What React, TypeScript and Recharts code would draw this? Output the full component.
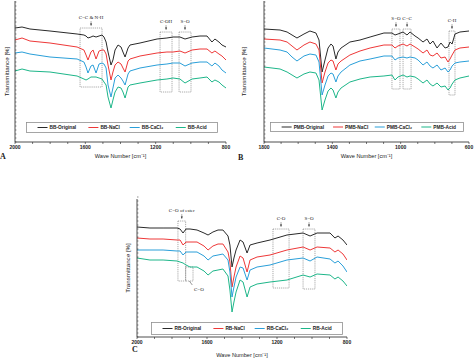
import React from "react";
import { LineChart, Line, XAxis, YAxis, ReferenceArea, Legend } from "recharts";

// ---- panel A (BB) ----
const A_WN = [2000, 1960, 1915, 1801, 1647, 1608, 1596, 1585, 1568, 1556, 1539, 1522, 1505, 1494, 1482, 1471, 1454, 1443, 1431, 1414, 1397, 1386, 1374, 1357, 1346, 1289, 1192, 1136, 1101, 1062, 1033, 993, 948, 908, 880, 863, 840, 823, 800];
const A_ORIGINAL = [114, 115, 113, 111, 108, 107, 106, 104, 105, 106, 105, 106, 107, 105, 100, 90, 77, 82, 92, 97, 95, 90, 85, 94, 97, 99, 103, 104, 105, 105, 103, 105, 106, 106, 100, 103, 100, 97, 95];
const A_NACL = [102, 104, 101, 99, 95, 92, 87, 82, 90, 92, 83, 91, 92, 92, 88, 77, 62, 70, 77, 80, 78, 74, 70, 81, 83, 86, 89, 90, 90, 91, 89, 92, 93, 93, 89, 91, 88, 86, 82];
const A_CACL2 = [89, 90, 88, 85, 83, 80, 75, 69, 76, 77, 69, 78, 79, 78, 74, 57, 45, 54, 64, 67, 64, 61, 57, 68, 71, 74, 77, 78, 79, 79, 76, 79, 80, 80, 76, 79, 76, 72, 69];
const A_ACID = [71, 73, 71, 70, 66, 63, 62, 63, 65, 65, 65, 64, 63, 60, 57, 45, 34, 42, 50, 55, 54, 50, 44, 55, 57, 59, 62, 63, 64, 63, 59, 63, 64, 65, 60, 62, 60, 57, 54];

// ---- panel B (PMB) ----
const B_WN = [1800, 1706, 1665, 1636, 1607, 1566, 1531, 1496, 1478, 1460, 1443, 1425, 1408, 1396, 1379, 1367, 1349, 1297, 1238, 1179, 1098, 1051, 1033, 1016, 986, 963, 945, 916, 898, 869, 846, 828, 811, 787, 764, 740, 723, 711, 699, 682, 653, 600];
const B_ORIGINAL = [113, 112, 110, 107, 104, 108, 111, 109, 102, 70, 82, 94, 98, 96, 83, 90, 94, 100, 102, 105, 109, 109, 107, 108, 110, 107, 110, 106, 104, 100, 103, 98, 101, 94, 99, 94, 95, 100, 98, 108, 110, 111];
const B_NACL = [103, 102, 100, 96, 92, 97, 100, 98, 92, 59, 70, 79, 82, 81, 72, 78, 81, 87, 91, 94, 97, 97, 94, 96, 98, 96, 98, 95, 93, 89, 92, 87, 86, 89, 84, 85, 80, 83, 87, 92, 94, 95];
const B_CACL2 = [94, 92, 90, 85, 81, 86, 88, 87, 80, 47, 57, 66, 69, 68, 60, 66, 70, 77, 81, 83, 86, 86, 82, 84, 85, 84, 85, 84, 82, 77, 80, 76, 74, 77, 72, 74, 70, 72, 76, 79, 80, 81];
const B_ACID = [75, 73, 70, 67, 64, 68, 70, 69, 62, 32, 42, 51, 54, 52, 44, 50, 54, 60, 63, 65, 66, 67, 62, 65, 67, 65, 66, 65, 63, 59, 62, 58, 56, 59, 55, 56, 52, 54, 58, 62, 64, 66];

// ---- panel C (RB) ----
const C_WN = [2000, 1926, 1851, 1771, 1754, 1737, 1720, 1697, 1657, 1617, 1594, 1566, 1537, 1509, 1480, 1469, 1457, 1446, 1434, 1411, 1394, 1371, 1354, 1314, 1240, 1143, 1051, 1011, 971, 897, 869, 851, 823, 800];
const C_ORIGINAL = [110, 109, 109, 109, 108, 104, 108, 108, 107, 104, 102, 105, 107, 107, 101, 92, 70, 79, 87, 97, 95, 84, 92, 94, 97, 102, 104, 101, 104, 104, 99, 101, 97, 92];
const C_NACL = [99, 98, 98, 97, 97, 92, 95, 95, 95, 91, 87, 91, 93, 93, 85, 75, 50, 60, 70, 81, 79, 65, 77, 80, 82, 87, 90, 87, 90, 89, 85, 87, 83, 77];
const C_CACL2 = [87, 87, 87, 86, 86, 82, 85, 85, 85, 81, 77, 81, 82, 83, 77, 65, 40, 50, 60, 70, 69, 57, 67, 70, 72, 77, 79, 76, 80, 78, 74, 76, 71, 65];
const C_ACID = [79, 77, 77, 76, 75, 74, 72, 70, 70, 66, 62, 66, 67, 68, 61, 47, 25, 35, 45, 57, 55, 40, 50, 53, 55, 57, 62, 60, 63, 62, 58, 60, 56, 51];

const A_NAMES = ["BB-Original", "BB-NaCl", "BB-CaCl₂", "BB-Acid"];
const B_NAMES = ["PMB-Original", "PMB-NaCl", "PMB-CaCl₂", "PMB-Acid"];
const C_NAMES = ["RB-Original", "RB-NaCl", "RB-CaCl₂", "RB-Acid"];

const AC_X_TICKS = [2000, 1900, 1800, 1700, 1600, 1500, 1400, 1300, 1200, 1100, 1000, 900, 800];
const AC_X_LABELS = [2000, 1600, 1200, 800];
const B_X_TICKS = [1800, 1700, 1600, 1500, 1400, 1300, 1200, 1100, 1000, 900, 800, 700, 600];
const B_X_LABELS = [1800, 1400, 1000, 600];
const Y_TICKS = [0, 4, 8, 12, 16, 20, 24, 28, 32, 36, 40, 44, 48, 52, 56, 60, 64, 68, 72, 76, 80, 84, 88, 92, 96, 100, 104, 108, 112, 116, 120, 124, 128, 132, 136, 140];

const COLORS = ["#2a2a2a", "#ee3838", "#2a9fd9", "#1db689"];

type Box = { x1: number; x2: number; y1: number; y2: number; text: string; below?: boolean };

const A_BOXES: Box[] = [
  { x1: 1630, x2: 1505, y1: 55, y2: 114, text: "C=C & N-H" },
  { x1: 1175, x2: 1107, y1: 50, y2: 110, text: "C-OH" },
  { x1: 1067, x2: 999, y1: 50, y2: 110, text: "S=O" },
];
const B_BOXES: Box[] = [
  { x1: 1051, x2: 1004, y1: 53, y2: 113, text: "S=O" },
  { x1: 986, x2: 939, y1: 53, y2: 113, text: "C=C" },
  { x1: 717, x2: 682, y1: 47, y2: 111, text: "C-H" },
];
const C_BOXES: Box[] = [
  { x1: 1766, x2: 1722, y1: 56, y2: 116, text: "C=O of ester" },
  { x1: 1722, x2: 1680, y1: 56, y2: 70, text: "C=O", below: true },
  { x1: 1223, x2: 1131, y1: 49, y2: 108, text: "C-O" },
  { x1: 1051, x2: 983, y1: 48, y2: 108, text: "S=O" },
];

const SERIF = "'Liberation Serif', 'Times New Roman', serif";
const SANS = "'Liberation Sans', Arial, sans-serif";

const rowsOf = (wn: number[], s: number[][]) =>
  wn.map((w, i) => ({ wn: w, s0: s[0][i], s1: s[1][i], s2: s[2][i], s3: s[3][i] }));

const boxLabel = (text: string, below?: boolean) => (props: any) => {
  const { x, y, width, height } = props.viewBox;
  if (below) {
    const bx = x + width / 2;
    const by = y + height;
    return (
      <g>
        <line x1={bx} y1={by} x2={bx + 3} y2={by + 4} stroke="#333" strokeWidth={0.5} />
        <text x={x + width + 1} y={by + 10} fontSize={5} fontFamily={SERIF} fill="#222">{text}</text>
      </g>
    );
  }
  const cx = x + width / 2;
  return (
    <g>
      <text x={cx} y={y - 9} textAnchor="middle" fontSize={5} fontFamily={SERIF} fill="#222">{text}</text>
      <line x1={cx} y1={y - 7} x2={cx} y2={y - 2} stroke="#333" strokeWidth={0.4} />
      <path d={`M${cx - 1},${y - 4.5} L${cx + 1},${y - 4.5} L${cx},${y - 2.5} Z`} fill="#222" />
    </g>
  );
};

type PanelProps = {
  left: number; top: number; width: number; height: number;
  margin: { top: number; right: number; bottom: number; left: number };
  xAxisHeight: number;
  wn: number[]; series: number[][]; names: string[];
  xDomain: [number, number]; xTicks: number[]; xLabels: number[];
  yDomain: [number, number]; boxes: Box[];
  legend: { left: number; top: number; width: number; height: number };
  yTitleX: number; xTitleDy: number; letter: { text: string; x: number; y: number };
};

function Panel(p: PanelProps) {
  const data = rowsOf(p.wn, p.series);
  const L = p.legend;
  const slots = [0.06, 0.325, 0.54, 0.78];
  return (
    <>
      <div style={{ position: "absolute", left: p.left, top: p.top }}>
        <LineChart width={p.width} height={p.height} data={data} margin={p.margin}>
          <XAxis
            dataKey="wn" type="number" domain={p.xDomain} allowDataOverflow reversed
            ticks={p.xTicks} interval={0}
            tickFormatter={(v: number) => (p.xLabels.includes(v) ? String(v) : "")}
            tickSize={2} tickMargin={1} height={p.xAxisHeight}
            axisLine={{ stroke: "#222", strokeWidth: 0.8 }}
            tickLine={{ stroke: "#222", strokeWidth: 0.6 }}
            tick={{ fontSize: 5, fill: "#222", fontFamily: SANS, fontWeight: 700 }}
            label={{
              content: (lp: any) => {
                const vb = lp.viewBox;
                return (
                  <text x={vb.x + vb.width / 2} y={vb.y + p.xTitleDy} textAnchor="middle" fontSize={5.6} fontFamily={SANS} fill="#222">
                    Wave Number [cm⁻¹]
                  </text>
                );
              },
            }}
          />
          <XAxis xAxisId="top" orientation="top" type="number" domain={p.xDomain} allowDataOverflow reversed height={0} tick={false} tickLine={false} axisLine={{ stroke: "#8c8c8c", strokeWidth: 1.8 }} />
          <YAxis
            type="number" domain={p.yDomain} allowDataOverflow ticks={Y_TICKS} interval={0}
            width={10} mirror tickSize={1.5} tickFormatter={() => ""}
            axisLine={{ stroke: "#222", strokeWidth: 0.8 }}
            tickLine={{ stroke: "#222", strokeWidth: 0.5 }}
            label={{
              content: (lp: any) => {
                const vb = lp.viewBox;
                const cy = vb.y + vb.height / 2;
                return (
                  <text x={p.yTitleX} y={cy} transform={`rotate(-90 ${p.yTitleX} ${cy})`} textAnchor="middle" fontSize={6.2} fontFamily={SANS} fill="#222">
                    Transmittance [%]
                  </text>
                );
              },
            }}
          />
          <YAxis yAxisId="right" orientation="right" type="number" domain={p.yDomain} allowDataOverflow width={0} tick={false} tickLine={false} axisLine={{ stroke: "#8c8c8c", strokeWidth: 1.8 }} />
          {p.boxes.map((b, i) => (
            <ReferenceArea
              key={i} x1={b.x1} x2={b.x2} y1={b.y1} y2={b.y2}
              stroke="#555" strokeWidth={0.5} strokeDasharray="1.2 0.9" fill="none" fillOpacity={0}
              ifOverflow="visible" label={boxLabel(b.text, b.below)}
            />
          ))}
          {p.names.map((n, i) => (
            <Line key={n} dataKey={`s${i}`} name={n} type="linear" stroke={COLORS[i]} strokeWidth={1} dot={false} isAnimationActive={false} />
          ))}
          <Legend
            verticalAlign="middle" align="center" layout="horizontal"
            wrapperStyle={{ position: "absolute", left: L.left, top: L.top, width: L.width, height: L.height }}
            content={() => (
              <svg width={L.width} height={L.height} style={{ display: "block" }}>
                <rect x={0.5} y={0.5} width={L.width - 1} height={L.height - 1} fill="#fff" stroke="#8f8f8f" strokeWidth={0.8} />
                {p.names.map((n, i) => {
                  const lx = slots[i] * L.width;
                  return (
                    <g key={n}>
                      <line x1={lx} x2={lx + 10} y1={L.height / 2} y2={L.height / 2} stroke={COLORS[i]} strokeWidth={1} />
                      <text x={lx + 12} y={L.height / 2 + 1.8} fontSize={4.8} fontWeight={700} fontFamily={SANS} fill="#222">{n}</text>
                    </g>
                  );
                })}
              </svg>
            )}
          />
        </LineChart>
      </div>
      <div style={{ position: "absolute", left: p.letter.x, top: p.letter.y, fontFamily: SERIF, fontSize: 8, fontWeight: 700, lineHeight: "8px", color: "#222" }}>
        {p.letter.text}
      </div>
    </>
  );
}

export default function App() {
  return (
    <div style={{ position: "absolute", left: 0, top: 0, width: 474, height: 360, background: "#fff", overflow: "hidden" }}>
      <Panel
        left={0} top={0} width={236} height={170}
        margin={{ top: 1, right: 10, bottom: 8, left: 15 }} xAxisHeight={20}
        wn={A_WN} series={[A_ORIGINAL, A_NACL, A_CACL2, A_ACID]} names={A_NAMES}
        xDomain={[800, 2000]} xTicks={AC_X_TICKS} xLabels={AC_X_LABELS} yDomain={[0, 141]}
        boxes={A_BOXES} legend={{ left: 26, top: 122, width: 192, height: 11 }}
        yTitleX={9} xTitleDy={16} letter={{ text: "A", x: 0, y: 153 }}
      />
      <Panel
        left={237} top={0} width={237} height={170}
        margin={{ top: 1, right: 5, bottom: 8, left: 27 }} xAxisHeight={20}
        wn={B_WN} series={[B_ORIGINAL, B_NACL, B_CACL2, B_ACID]} names={B_NAMES}
        xDomain={[600, 1800]} xTicks={B_X_TICKS} xLabels={B_X_LABELS} yDomain={[0, 141]}
        boxes={B_BOXES} legend={{ left: 33, top: 122, width: 194, height: 10 }}
        yTitleX={9} xTitleDy={16} letter={{ text: "B", x: 238, y: 154 }}
      />
      <Panel
        left={120} top={185} width={235} height={175}
        margin={{ top: 14, right: 8, bottom: 8, left: 17 }} xAxisHeight={15}
        wn={C_WN} series={[C_ORIGINAL, C_NACL, C_CACL2, C_ACID]} names={C_NAMES}
        xDomain={[800, 2000]} xTicks={AC_X_TICKS} xLabels={AC_X_LABELS} yDomain={[0, 138]}
        boxes={C_BOXES} legend={{ left: 31, top: 137, width: 192, height: 13 }}
        yTitleX={10} xTitleDy={20} letter={{ text: "C", x: 132, y: 346 }}
      />
    </div>
  );
}
